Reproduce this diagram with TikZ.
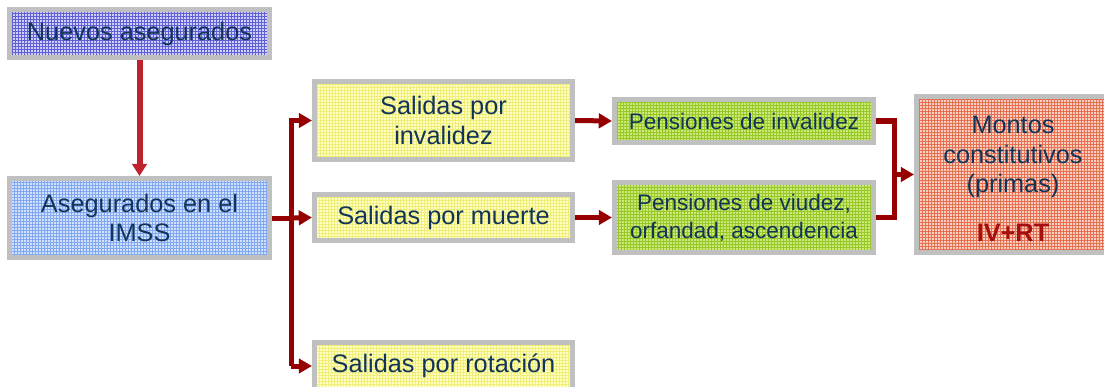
\documentclass[tikz,border=0pt]{standalone}
\usepackage{fontspec}
\setmainfont{Liberation Sans}
\usetikzlibrary{arrows.meta}

\definecolor{txtblue}{RGB}{18,52,88}
\definecolor{boxgray}{RGB}{192,192,192}
\definecolor{arrred}{RGB}{150,0,0}
\definecolor{lightred}{RGB}{190,35,45}
\definecolor{ivred}{RGB}{165,15,15}
\definecolor{nuevbase}{RGB}{208,208,250}
\definecolor{nuevgrid}{RGB}{95,95,215}
\definecolor{asegbase}{RGB}{208,224,255}
\definecolor{aseggrid}{RGB}{130,168,240}
\definecolor{salbase}{RGB}{255,255,195}
\definecolor{salgrid}{RGB}{238,238,120}
\definecolor{penbase}{RGB}{205,232,120}
\definecolor{pengrid}{RGB}{150,200,40}
\definecolor{monbase}{RGB}{248,208,192}
\definecolor{mongrid}{RGB}{232,112,82}

\tikzset{
  gridfill/.style 2 args={fill=#1, path picture={
    \draw[#2, line width=0.3pt] (path picture bounding box.south west)
      grid[step=0.075cm] (path picture bounding box.north east);}},
  box/.style={draw=boxgray, line width=0.125cm, text=txtblue, align=center,
    inner sep=0pt, font=\fontsize{18}{21}\selectfont},
  penbox/.style={box, gridfill={penbase}{pengrid}, minimum width=6.475cm,
    font=\fontsize{16}{20}\selectfont},
  salbox/.style={box, gridfill={salbase}{salgrid}, minimum width=6.45cm},
  link/.style={arrred, line width=0.125cm},
  linkarr/.style={link, -{Triangle[width=0.36cm,length=0.33cm]}}
}

\begin{document}
\begin{tikzpicture}[x=0.025cm,y=0.025cm]
	\useasboundingbox (0,0) rectangle (1104,-387);
	\clip (0,0) rectangle (1104,-387);
	\node [box, gridfill={nuevbase}{nuevgrid}, minimum width=6.5cm, minimum height=1.2cm] (nuevos) at (139.5,-33.5) {Nuevos asegurados};
	\node [box, gridfill={asegbase}{aseggrid}, minimum width=6.5cm, minimum height=1.975cm] (aseg) at (139.5,-218) {Asegurados en el\\IMSS};
	\node [salbox, minimum height=1.95cm] (inval) at (443.5,-120.5) {Salidas por\\invalidez};
	\node [salbox, minimum height=1.15cm] (muerte) at (443.5,-217.5) {Salidas por muerte};
	\node [salbox, minimum height=1.175cm] (rotac) at (443.5,-366) {Salidas por rotación};
	\node [penbox, minimum height=1.075cm] (peninv) at (744,-121) {Pensiones de invalidez};
	\node [penbox, minimum height=1.75cm] (penviu) at (744,-217.5) {Pensiones de viudez,\\orfandad, ascendencia};
	\node [box, draw=none, gridfill={monbase}{mongrid}, minimum width=5.8cm, minimum height=3.9cm] (montos) at (1032.5,-174.5) {\begin{tabular}{@{}c@{}}\rule{0pt}{25pt}Montos\\constitutivos\\(primas)\\[14pt]{\color{ivred}\bfseries IV+RT}\end{tabular}\rule{0.975cm}{0pt}};
	\draw [boxgray, line width=0.125cm] ([yshift=-0.0625cm]montos.north east) -- ([xshift=0.0625cm,yshift=-0.0625cm]montos.north west) -- ([xshift=0.0625cm,yshift=0.0625cm]montos.south west) -- ([yshift=0.0625cm]montos.south east);
	\coordinate (split) at (291,-218);
	\coordinate (join) at (894.5,-170);
	\draw [lightred, line width=0.15cm, -{Triangle[width=0.36cm,length=0.3cm]}] (nuevos) -- (aseg);
	\draw [link] (aseg.east) -- (split);
	\draw [linkarr] (split |- rotac.west) -- (split |- inval.west) -- (inval.west);
	\draw [linkarr] (split) -- (muerte.west);
	\draw [linkarr] (split |- rotac.west) -- (rotac.west);
	\draw [linkarr] (inval.east) -- (peninv.west);
	\draw [linkarr] (muerte.east) -- (penviu.west);
	\draw [link] (peninv.east) -| (join) |- (penviu.east);
	\draw [linkarr] (join |- montos.west) -- (montos.west);
\end{tikzpicture}
\end{document}
